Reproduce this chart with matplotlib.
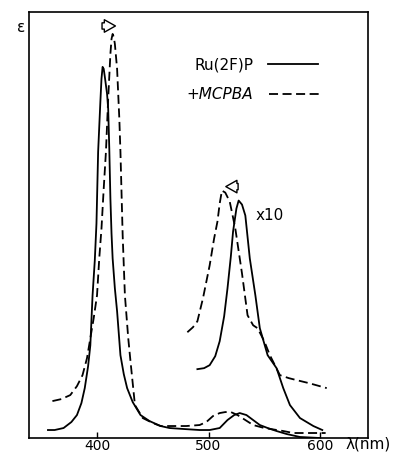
import matplotlib.pyplot as plt

# Ru(2F)P, main spectrum (wavelength nm, arbitrary epsilon units)
ru_wl = [356, 362, 370, 377, 382, 386, 389, 392, 394, 396, 398, 399.5, 401, 403, 404,
         405, 406, 407, 409, 410, 411, 412, 413, 414, 416, 418, 421, 424, 427, 432,
         439, 447, 457, 465, 478, 492, 501, 510, 517, 523, 528, 534, 540, 546, 553,
         561, 570, 582, 600]
ru_eps = [8, 8, 10, 16, 23, 35, 50, 72, 93, 143, 178, 215, 287, 337, 360,
          372, 370, 362, 345, 330, 290, 240, 205, 180, 150, 127, 83, 64, 50, 36,
          23, 17, 12, 10, 9, 8, 8, 10, 18, 23, 25, 23, 18, 13, 10,
          7, 4, 1, 0]

# + MCPBA, main spectrum
mc_wl = [360, 368, 376, 382, 387, 391, 394, 397, 400, 402, 404, 406, 408, 410, 412,
         413, 414, 415, 416, 418, 420, 421, 423, 425, 428, 430, 434, 441, 450, 457,
         468, 480, 492, 498, 504, 510, 515, 520, 526, 533, 540, 550, 567, 576, 590, 605]
mc_eps = [37, 39, 43, 52, 63, 80, 100, 120, 143, 180, 210, 250, 287, 340, 385,
          400, 405, 402, 395, 370, 320, 287, 203, 143, 100, 77, 33, 20, 15, 12,
          12, 12, 13, 16, 22, 25, 26, 26, 23, 18, 13, 10, 7, 5, 5, 5]

# x10 expanded Q-band region
ru10_wl = [490, 496, 501, 506, 510, 514, 517, 520, 522, 525, 527, 530, 533, 537, 542,
           546, 553, 561, 567, 573, 582, 594, 602]
ru10_eps = [69, 70, 73, 82, 97, 122, 150, 182, 207, 230, 238, 234, 223, 180, 143,
            110, 83, 70, 50, 33, 20, 12, 8]

mc10_wl = [481, 486, 490, 495, 501, 505, 508, 510, 512, 515, 519, 524, 530, 535, 540,
           544, 550, 555, 564, 572, 579, 590, 606]
mc10_eps = [106, 111, 117, 140, 173, 200, 217, 235, 248, 246, 237, 210, 165, 123, 113,
            110, 97, 83, 63, 60, 58, 55, 50]

xticks = [400, 500, 600]

fig = plt.figure(figsize=(3.93, 4.56), dpi=100)
ax = fig.add_axes([29 / 393, 17 / 456, 339 / 393, 426 / 456])

lw = 1.3
dash = (5, 2.5)
ax.plot(ru_wl, ru_eps, color='black', lw=lw)
ax.plot(mc_wl, mc_eps, color='black', lw=lw, dashes=dash)
ax.plot(ru10_wl, ru10_eps, color='black', lw=lw)
ax.plot(mc10_wl, mc10_eps, color='black', lw=lw, dashes=dash)

ax.set_xlim(339, 643)
ax.set_ylim(0, 427)
ax.set_xticks(xticks)
ax.set_xticklabels([str(t) for t in xticks])
ax.set_yticks([])
ax.tick_params(axis='x', direction='in', length=4, width=1, pad=0, labelsize=10)
for s in ax.spines.values():
    s.set_linewidth(1.2)

# open arrows marking peak shifts
ax.annotate('', xy=(419, 413), xytext=(402, 413),
            arrowprops=dict(arrowstyle='simple,head_width=0.9,head_length=0.8,tail_width=0.45',
                            fc='white', ec='black', lw=1))
ax.annotate('', xy=(513, 252), xytext=(529, 252),
            arrowprops=dict(arrowstyle='simple,head_width=0.9,head_length=0.8,tail_width=0.45',
                            fc='white', ec='black', lw=1))

ax.text(542, 224, 'x10', fontsize=11, va='center', ha='left')

# legend drawn by hand
ax.text(540, 375, 'Ru(2F)P', fontsize=11, va='center', ha='right')
ax.plot([553, 598], [375, 375], color='black', lw=lw)
ax.text(540, 345, '+MCPBA', fontsize=11, va='center', ha='right', style='italic')
ax.plot([554, 600], [345, 345], color='black', lw=lw, dashes=dash)

fig.text(21 / 393, 1 - 27 / 456, 'ε', fontsize=11, ha='center', va='center')
fig.text(345 / 393, 1 - 444 / 456, 'λ(nm)', fontsize=11, ha='left', va='center')

fig.savefig('out.png', dpi=100)
